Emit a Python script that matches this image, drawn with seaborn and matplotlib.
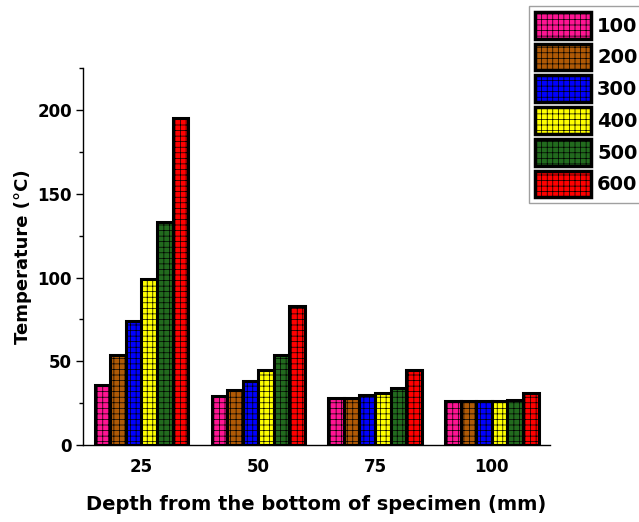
import matplotlib
matplotlib.use("Agg")
import matplotlib.pyplot as plt
from matplotlib.ticker import MultipleLocator
import seaborn as sns
import pandas as pd

# depth groups (mm) and series labels
depths = ["25", "50", "75", "100"]
series = ["100", "200", "300", "400", "500", "600"]

# temperatures (C) per series, one value per depth
t100 = [36, 29, 28, 26]
t200 = [54, 33, 28, 26]
t300 = [74, 38, 30, 26]
t400 = [99, 45, 31, 26]
t500 = [133, 54, 34, 27]
t600 = [195, 83, 45, 31]

colors = ["#ff1493", "#b05a06", "#0000ff", "#ffff00", "#226b1e", "#ff0000"]

rows = []
for s, vals in zip(series, [t100, t200, t300, t400, t500, t600]):
    for d, v in zip(depths, vals):
        rows.append({"depth": d, "series": s, "temp": v})
df = pd.DataFrame(rows)

sns.set_style("white")
plt.rcParams["font.family"] = ["DejaVu Sans"]
plt.rcParams["font.weight"] = "bold"
plt.rcParams["hatch.linewidth"] = 0.5
for key in ["text.color", "axes.labelcolor", "xtick.color", "ytick.color"]:
    plt.rcParams[key] = "black"

fig = plt.figure(figsize=(6.39, 5.22), dpi=100)
ax = fig.add_axes([0.13, 0.1475, 0.731, 0.722])

sns.barplot(data=df, x="depth", y="temp", hue="series", order=depths,
            hue_order=series, palette=colors, width=0.8, ax=ax,
            edgecolor="black", linewidth=2.2, saturation=1, legend=True)

for cont in ax.containers:
    for bar in cont:
        bar.set_hatch("+++")

ax.set_xlim(-0.5, 3.5)
ax.set_ylim(0, 225)
ax.yaxis.set_major_locator(MultipleLocator(50))
ax.yaxis.set_minor_locator(MultipleLocator(25))
ax.tick_params(axis="y", which="major", left=True, length=5, width=1,
               labelsize=12, direction="out", pad=3)
ax.tick_params(axis="y", which="minor", left=True, length=3, width=1)
ax.tick_params(axis="x", length=0, labelsize=12, pad=9)
for lbl in ax.get_xticklabels() + ax.get_yticklabels():
    lbl.set_fontweight("bold")

sns.despine(ax=ax)
for sp in ["left", "bottom"]:
    ax.spines[sp].set_color("black")
    ax.spines[sp].set_linewidth(1)

ax.set_xlabel("Depth from the bottom of specimen (mm)", fontsize=14,
              fontweight="bold", labelpad=14)
ax.set_ylabel("Temperature (°C)", fontsize=13, fontweight="bold", labelpad=4)

handles, labels = ax.get_legend_handles_labels()
ax.get_legend().remove()
leg = fig.legend(handles, labels, loc="upper left",
                 bbox_to_anchor=(529 / 639, 1 - 6 / 522),
                 prop={"weight": "bold", "size": 14},
                 frameon=True, fancybox=False, edgecolor="#888888",
                 handlelength=2.9, handleheight=1.75, labelspacing=0.25,
                 handletextpad=0.3, borderpad=0.3, borderaxespad=0)
leg.get_frame().set_linewidth(1)
for h in leg.get_patches():
    h.set_hatch("+++")
    h.set_linewidth(2.5)

fig.savefig("out.png", dpi=100)
